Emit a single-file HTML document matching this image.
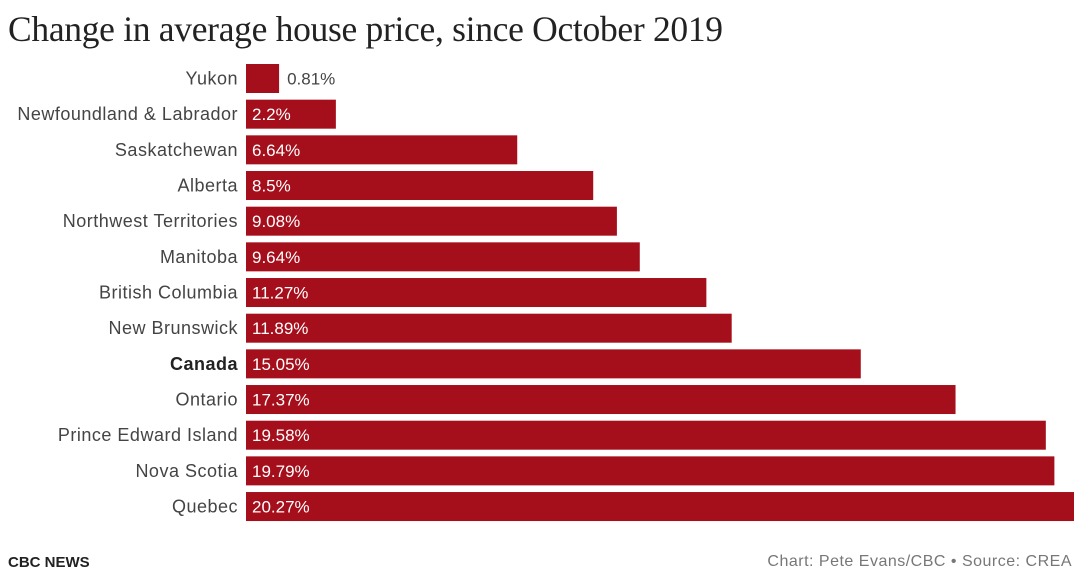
<!DOCTYPE html>
<html><head><meta charset="utf-8">
<style>
body{margin:0;background:#fff;width:1080px;height:578px;overflow:hidden;font-family:"Liberation Sans",sans-serif;}
#title{position:absolute;left:8px;top:8px;font-family:"Liberation Serif",serif;font-size:35.5px;color:#222;letter-spacing:-0.3px;}
#brand{position:absolute;left:8px;top:554px;font-size:15px;font-weight:bold;color:#222;}
#source{position:absolute;right:8px;top:553px;font-size:16px;color:#777;letter-spacing:0.5px;}
</style></head><body>
<div id="title">Change in average house price, since October 2019</div>
<svg id="chart" width="1080" height="578" style="position:absolute;left:0;top:0"></svg>
<div id="brand">CBC NEWS</div>
<div id="source">Chart: Pete Evans/CBC • Source: CREA</div>
<script>
const categories=["Yukon","Newfoundland & Labrador","Saskatchewan","Alberta","Northwest Territories","Manitoba","British Columbia","New Brunswick","Canada","Ontario","Prince Edward Island","Nova Scotia","Quebec"];
const values=[0.81,2.2,6.64,8.5,9.08,9.64,11.27,11.89,15.05,17.37,19.58,19.79,20.27];
const labels=["0.81%","2.2%","6.64%","8.5%","9.08%","9.64%","11.27%","11.89%","15.05%","17.37%","19.58%","19.79%","20.27%"];
const NS="http://www.w3.org/2000/svg";
const svg=document.getElementById('chart');
const x0=246,x1=1074,maxV=20.27;
const xs=v=>x0+(x1-x0)*v/maxV;
const yTop=64,step=35.67,bh=29;
const ys=i=>yTop+i*step;
categories.forEach((c,i)=>{
  const y=ys(i);
  const r=document.createElementNS(NS,'rect');
  
  
  r.setAttribute('x',x0);r.setAttribute('y',y);r.setAttribute('width',xs(values[i])-x0);r.setAttribute('height',bh);r.setAttribute('fill','#a50e1b');
  svg.appendChild(r);
  const t=document.createElementNS(NS,'text');
  
  
  t.setAttribute('x',238);t.setAttribute('y',y+bh/2+6);t.setAttribute('text-anchor','end');
  t.setAttribute('font-size','18');t.setAttribute('letter-spacing','0.5');t.setAttribute('fill',c==='Canada'?'#222':'#444');
  if(c==='Canada')t.setAttribute('font-weight','bold');
  t.textContent=c;svg.appendChild(t);
  const w=xs(values[i])-x0;
  const v=document.createElementNS(NS,'text');
  
  
  const inside=w>60;
  v.setAttribute('x',inside?x0+6:xs(values[i])+8);v.setAttribute('y',y+bh/2+6);
  v.setAttribute('font-size','17');v.setAttribute('fill',inside?'#fff':'#444');
  v.textContent=labels[i];svg.appendChild(v);
});
</script>
</body></html>
